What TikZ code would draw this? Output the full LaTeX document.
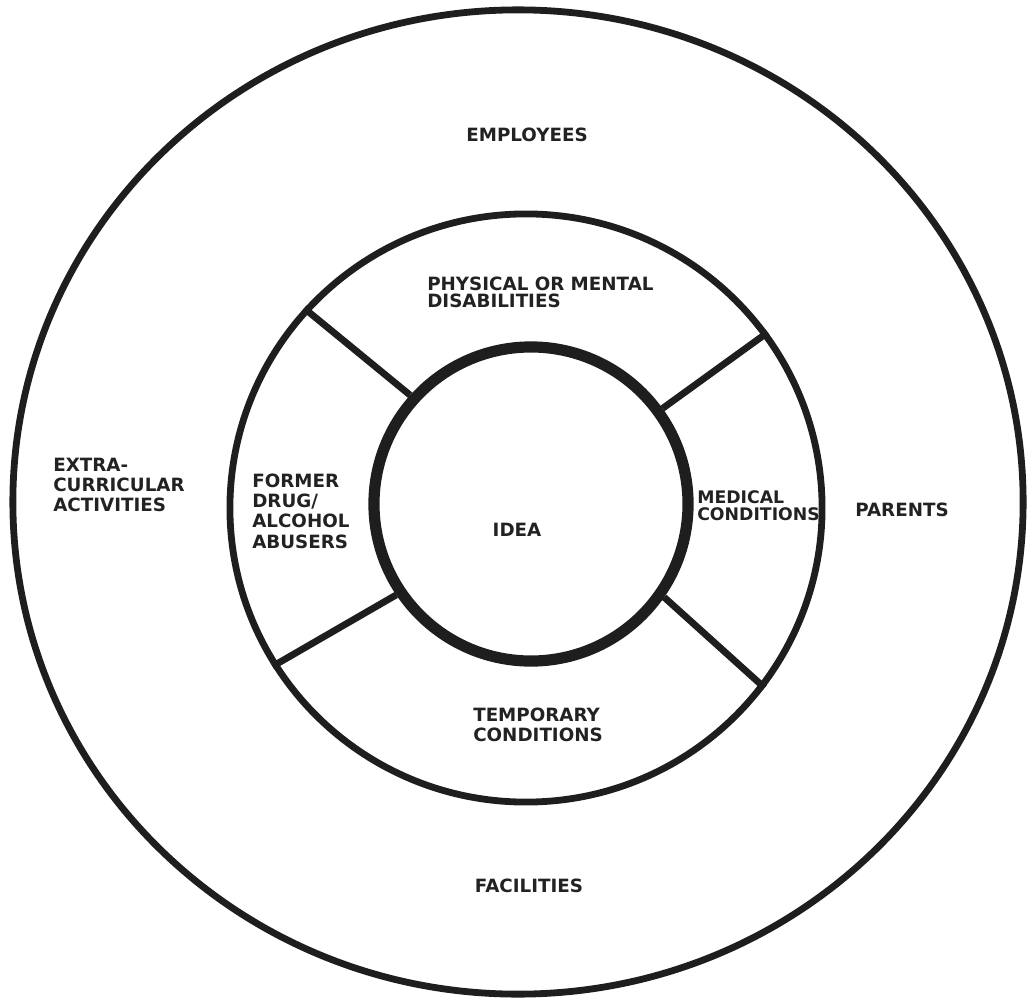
\documentclass[tikz,border=0pt]{standalone}
\usepackage{fontspec}
\setmainfont{DejaVu Sans}
\usepackage{xcolor}
\usetikzlibrary{shapes,positioning}

\definecolor{ink}{HTML}{1E1E1E}
\definecolor{lbl}{HTML}{222222}

\begin{document}
\begin{tikzpicture}[
    x=0.025cm, y=-0.025cm,
    ring/.style={ellipse, draw=ink, line width=1.7mm, inner sep=0pt},
    spoke/.style={draw=ink, line width=1.7mm},
    lab/.style={text=lbl, inner sep=0pt, align=left, font=\bfseries\fontsize{13}{14.5}\selectfont},
    tight/.style={font=\bfseries\fontsize{13}{12.2}\selectfont}
]
\useasboundingbox (0,0) rectangle (1029,1004);

% Rings
\node[ring, minimum width=25.25cm, minimum height=24.6cm] (outer_ring) at (518,502) {};
\node[ring, minimum width=14.8cm, minimum height=14.7cm] (mid_ring) at (526,508) {};
\node[ring, line width=2.8mm, minimum width=7.85cm, minimum height=7.85cm] (core) at (531,504) {};

% Spokes between the inner rings
\draw[spoke] (core.138) -- (mid_ring.138);
\draw[spoke] (core.36) -- (mid_ring.36);
\draw[spoke] (core.214) -- (mid_ring.212);
\draw[spoke] (core.325) -- (mid_ring.323);

% Outer ring labels
\node[lab] (employees) at (527,135) {EMPLOYEES};
\node[lab, anchor=west] (extra) at (53,485) {EXTRA-\\CURRICULAR\\ACTIVITIES};
\node[lab] (parents) at (902,510) {PARENTS};
\node[lab] (facilities) at (529,886) {FACILITIES};

% Middle ring labels
\node[lab, tight, anchor=west] (physical) at (427,292) {PHYSICAL OR MENTAL\\DISABILITIES};
\node[lab, anchor=west] (former) at (252,511) {FORMER\\DRUG/\\ALCOHOL\\ABUSERS};
\node[lab, tight, anchor=west, font=\bfseries\fontsize{12.3}{12}\selectfont] (medical) at (697,506) {MEDICAL\\CONDITIONS};
\node[lab, anchor=west] (temporary) at (473,725) {TEMPORARY\\CONDITIONS};

% Core label
\node[lab] (idea) at (517,530) {IDEA};

\end{tikzpicture}
\end{document}
